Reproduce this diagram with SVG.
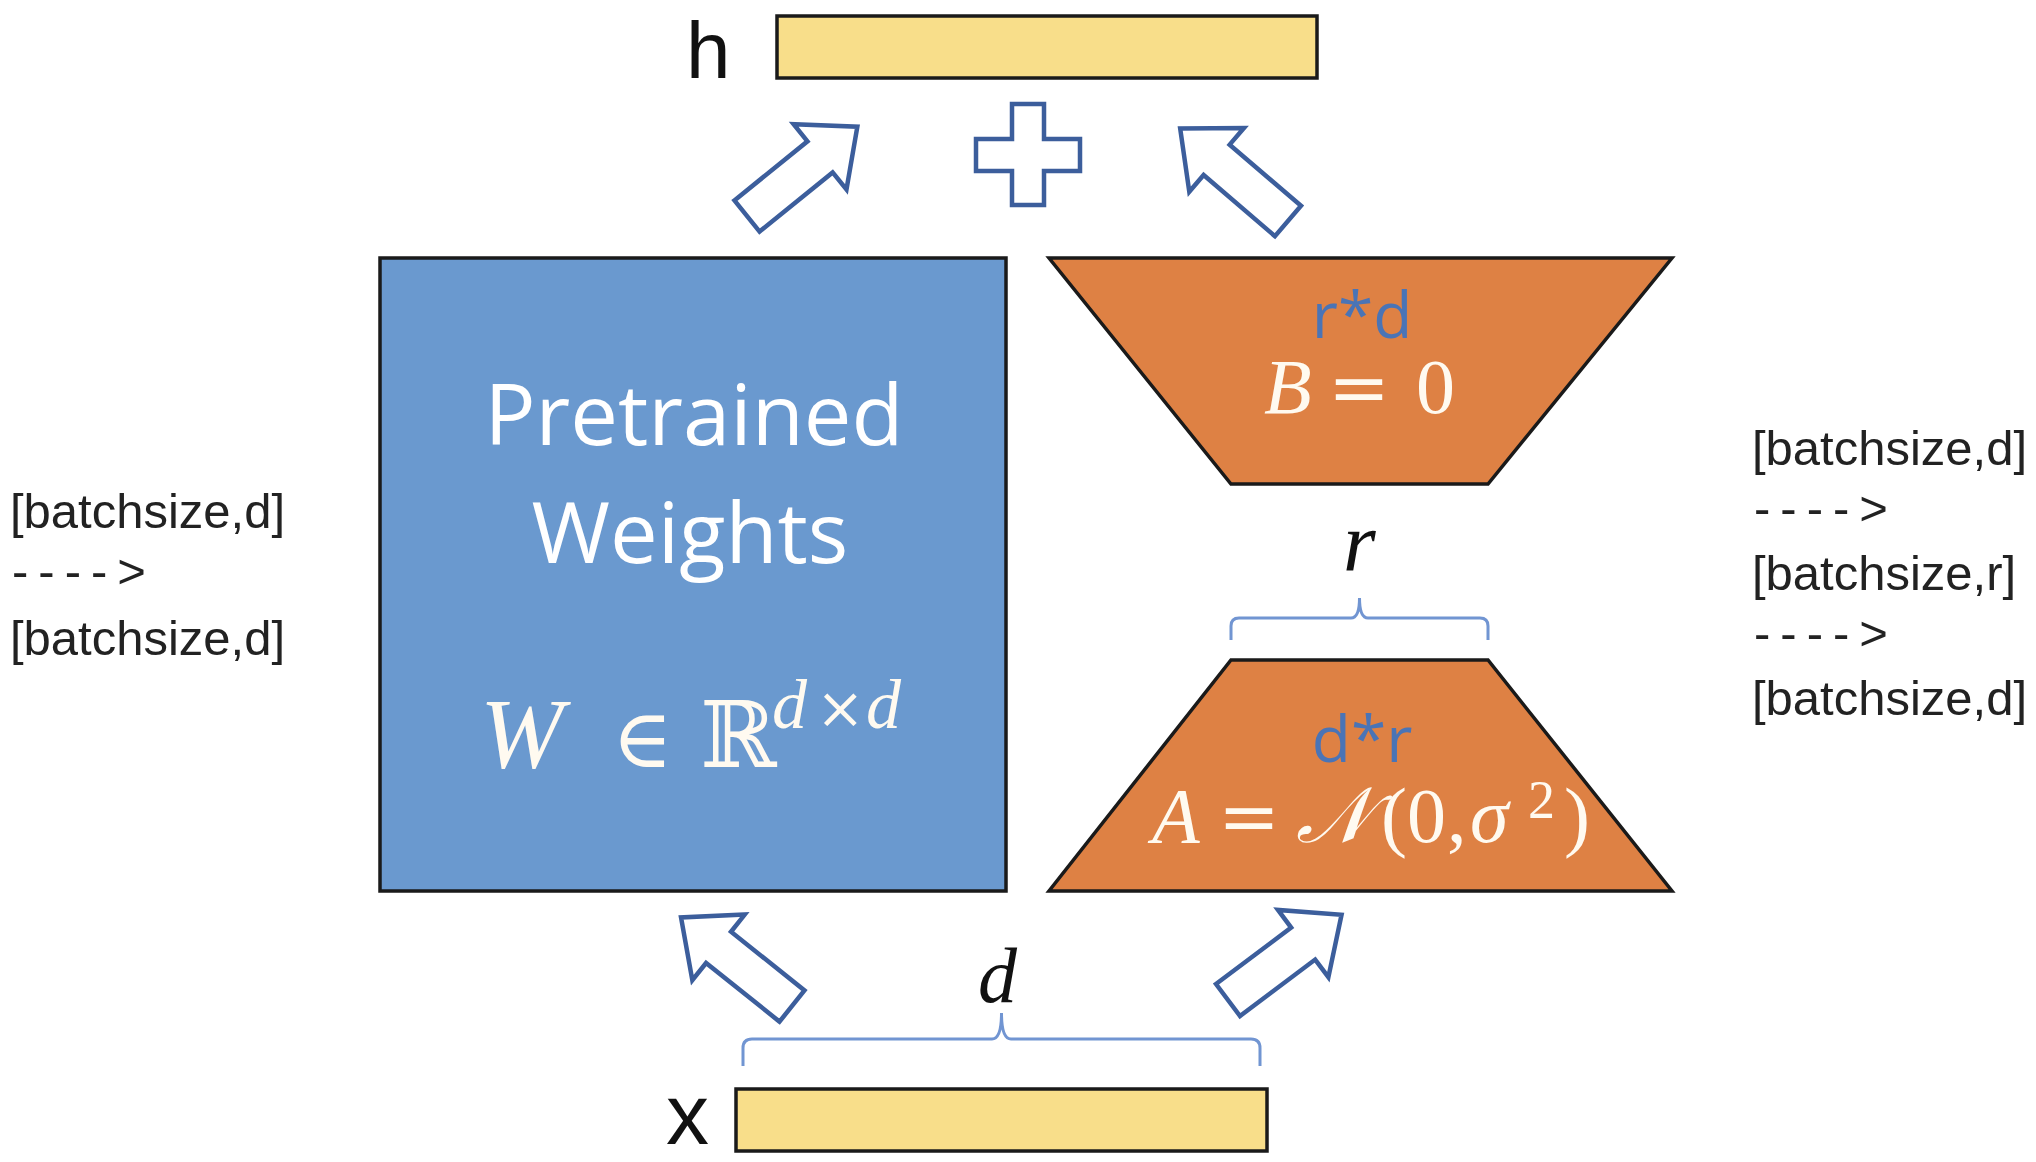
<svg xmlns="http://www.w3.org/2000/svg" width="2036" height="1162" viewBox="0 0 2036 1162">
<style>
.bar{fill:#f8de8a;stroke:#1a1a1a;stroke-width:3.5}
.blk{stroke:#1a1a1a;stroke-width:3.5}
.arr{fill:#ffffff;stroke:#3c5e9c;stroke-width:4.5;stroke-linejoin:miter}
.brace{fill:none;stroke:#7195d2;stroke-width:3}
.lbl{font-family:"Liberation Sans",Arial,sans-serif;fill:#111}
.side{font-family:"Liberation Sans",Arial,sans-serif;font-size:49px;fill:#222}
.wt{font-family:"Open Sans","Noto Sans",sans-serif;fill:#ffffff}
.mw{font-family:"Liberation Serif","DejaVu Serif",serif;fill:#fffaf0}
.ms{font-family:"DejaVu Serif",serif;fill:#fffaf0}
.bt{font-family:"Open Sans","Noto Sans",sans-serif;font-size:64px;fill:#4a74b6}
.it{font-style:italic}
</style>
<defs>
<path id="arrow" d="M0,-20 L94,-20 L94,-42 L142,0 L94,42 L94,20 L0,20 Z"/>
</defs>
<rect width="2036" height="1162" fill="#ffffff"/>

<g id="h-node">
<rect class="bar" x="777" y="16" width="540" height="62"/>
<text class="lbl" x="686" y="78" font-size="80">h</text>
</g>

<g id="plus">
<path d="M1012,104 L1044,104 L1044,139 L1080,139 L1080,171 L1044,171 L1044,205 L1012,205 L1012,171 L976,171 L976,139 L1012,139 Z" fill="#ffffff" stroke="#3c5e9c" stroke-width="4.5"/>
</g>

<g id="pretrained">
<rect class="blk" x="380" y="258" width="626" height="633" fill="#6a99cf"/>
<text class="wt" x="694" y="445" font-size="85" text-anchor="middle">Pretrained</text>
<text class="wt" x="690" y="563" font-size="85" text-anchor="middle">Weights</text>
<text class="mw it" x="480" y="767" font-size="100">W</text>
<text class="ms" x="612" y="767" font-size="82">∈</text>
<text class="ms" x="700" y="767" font-size="92">ℝ</text>
<text class="mw it" x="772" y="728" font-size="70">d</text>
<text class="ms" x="816" y="728" font-size="58">×</text>
<text class="mw it" x="866" y="728" font-size="70">d</text>
</g>

<g id="B-node">
<polygon class="blk" points="1049,258 1672,258 1488,484 1231,484" fill="#de8144"/>
<text class="bt" x="1362" y="338" text-anchor="middle">r*d</text>
<text class="mw it" x="1264" y="413" font-size="78">B</text>
<text class="ms" x="1328" y="413" font-size="74">=</text>
<text class="mw" x="1416" y="413" font-size="78">0</text>
</g>

<g id="r-label">
<text class="mw it" x="1343" y="571" font-size="84" style="fill:#111">r</text>
</g>

<g id="A-node">
<polygon class="blk" points="1231,660 1488,660 1672,891 1049,891" fill="#de8144"/>
<text class="bt" x="1362" y="762" text-anchor="middle">d*r</text>
<text class="mw it" x="1152" y="842" font-size="78">A</text>
<text class="ms" x="1218" y="842" font-size="74">=</text>
<text class="ms it" x="1296" y="842" font-size="78">𝒩</text>
<text class="mw" x="1381" y="842" font-size="78">(</text>
<text class="mw" x="1407" y="842" font-size="78">0</text>
<text class="mw" x="1447" y="842" font-size="78">,</text>
<text class="mw it" x="1470" y="842" font-size="78">σ</text>
<text class="mw" x="1528" y="818" font-size="54">2</text>
<text class="mw" x="1564" y="842" font-size="78">)</text>
</g>

<g id="d-label">
<text class="mw it" x="978" y="1002" font-size="78" style="fill:#111">d</text>
</g>

<g id="x-node">
<rect class="bar" x="736" y="1089" width="531" height="62"/>
<text class="lbl" x="666" y="1144" font-size="86">x</text>
</g>

<g id="left-note">
<text class="side" x="10" y="528">[batchsize,d]</text>
<text class="side" x="12" y="588" letter-spacing="10">----&gt;</text>
<text class="side" x="10" y="655">[batchsize,d]</text>
</g>

<g id="right-note">
<text class="side" x="1752" y="465">[batchsize,d]</text>
<text class="side" x="1754" y="525" letter-spacing="10">----&gt;</text>
<text class="side" x="1752" y="590">[batchsize,r]</text>
<text class="side" x="1754" y="650" letter-spacing="10">----&gt;</text>
<text class="side" x="1752" y="715">[batchsize,d]</text>
</g>

<g id="connectors">
<use href="#arrow" class="arr" transform="translate(747,216) rotate(-39)"/>
<use href="#arrow" class="arr" transform="translate(1288,221) rotate(-139.4)"/>
<use href="#arrow" class="arr" transform="translate(792,1006) rotate(-141.4)"/>
<use href="#arrow" class="arr" transform="translate(1228,1000) rotate(-36.9)"/>
<path class="brace" d="M1231,640 L1231,626 Q1231,618 1239,618 L1351,618 Q1359.5,618 1359.5,598 Q1359.5,618 1368,618 L1480,618 Q1488,618 1488,626 L1488,640"/>
<path class="brace" d="M743,1066 L743,1048 Q743,1039 752,1039 L992,1039 Q1001.5,1039 1001.5,1013 Q1001.5,1039 1011,1039 L1251,1039 Q1260,1039 1260,1048 L1260,1066"/>
</g>
</svg>
